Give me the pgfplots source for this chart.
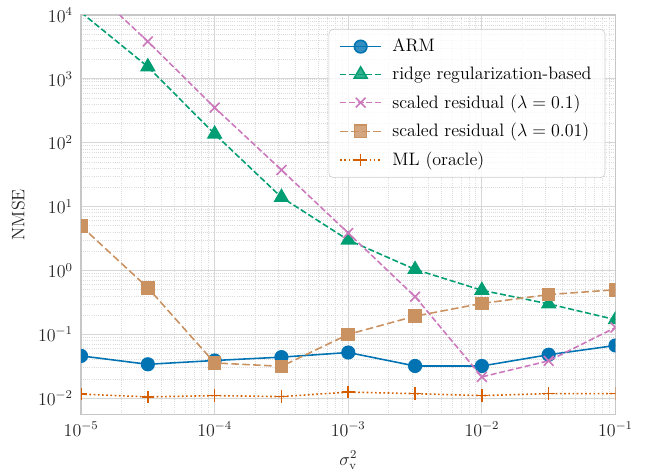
\documentclass[border=0pt]{standalone}
\usepackage{pgfplots}
\pgfplotsset{compat=1.18}
\definecolor{cblue}{HTML}{0173B2}
\definecolor{cgreen}{HTML}{029E73}
\definecolor{cpink}{HTML}{CC78BC}
\definecolor{ctan}{HTML}{CA9161}
\definecolor{corange}{HTML}{D55E00}
\begin{document}
\begin{tikzpicture}[font=\large]
\begin{loglogaxis}[
  scale only axis, width=356pt, height=266pt,
  xmin=1e-5, xmax=1e-1, ymin=5.6e-3, ymax=1e4,
  axis line style={draw=black!22, line width=0.8pt},
  tick style={draw=none},
  grid=both,
  major grid style={draw=black!16, line width=0.7pt},
  minor grid style={draw=black!14, densely dotted, line width=0.5pt},
  xtick={1e-5,1e-4,1e-3,1e-2,1e-1},
  ytick={1e-2,1e-1,1,1e1,1e2,1e3,1e4},
  tick label style={text=black!85, font=\large},
  label style={text=black!85, font=\large},
  xlabel={$\sigma_{\mathrm{v}}^2$},
  ylabel={NMSE},
  xticklabel style={yshift=-1.5pt},
  yticklabel style={xshift=-2pt},
  xlabel style={yshift=-3pt},
  ylabel style={yshift=2pt},
  clip marker paths=true,
  legend style={at={(0.981,0.965)}, anchor=north east, draw=black!20, rounded corners=3pt,
    fill=white, fill opacity=0.8, text opacity=1, row sep=4.6pt, column sep=5pt,
    inner xsep=7pt, inner ysep=4.5pt, cells={anchor=west}, font=\large},
  legend image code/.code={\draw[mark repeat=2,mark phase=2,#1] plot coordinates {(0cm,0cm)(0.48cm,0cm)(0.96cm,0cm)};},
  every axis plot/.append style={line width=1.05pt},
]
\addplot[cblue, solid, mark=*, mark size=4.2pt, mark options={solid, fill=cblue}] coordinates {
(1e-5,0.046) (3.1623e-5,0.034) (1e-4,0.039) (3.1623e-4,0.044) (1e-3,0.052)
(3.1623e-3,0.032) (1e-2,0.032) (3.1623e-2,0.048) (1e-1,0.067)};
\addlegendentry{ARM}
\addplot[cgreen, dash pattern=on 4pt off 1.8pt, mark=triangle*, mark size=5pt, mark options={solid, fill=cgreen}] coordinates {
(1e-5,11000) (3.1623e-5,1550) (1e-4,137) (3.1623e-4,14) (1e-3,3.0)
(3.1623e-3,1.04) (1e-2,0.49) (3.1623e-2,0.30) (1e-1,0.17)};
\addlegendentry{ridge regularization-based}
\addplot[cpink, dash pattern=on 4pt off 1.8pt, mark=x, mark size=4.6pt, mark options={solid}] coordinates {
(1e-5,37000) (3.1623e-5,3850) (1e-4,355) (3.1623e-4,37.5) (1e-3,3.86)
(3.1623e-3,0.39) (1e-2,0.0216) (3.1623e-2,0.0385) (1e-1,0.128)};
\addlegendentry{scaled residual ($\lambda=0.1$)}
\addplot[ctan, dash pattern=on 5pt off 2.3pt, mark=square*, mark size=4pt, mark options={solid, fill=ctan}] coordinates {
(1e-5,4.97) (3.1623e-5,0.536) (1e-4,0.0357) (3.1623e-4,0.0316) (1e-3,0.100)
(3.1623e-3,0.193) (1e-2,0.305) (3.1623e-2,0.42) (1e-1,0.50)};
\addlegendentry{scaled residual ($\lambda=0.01$)}
\addplot[corange, dash pattern=on 1.1pt off 1.7pt, mark=+, mark size=4.2pt, mark options={solid}] coordinates {
(1e-5,0.0116) (3.1623e-5,0.0105) (1e-4,0.0110) (3.1623e-4,0.0106) (1e-3,0.0125)
(3.1623e-3,0.0118) (1e-2,0.0110) (3.1623e-2,0.0118) (1e-1,0.0118)};
\addlegendentry{ML (oracle)}
\end{loglogaxis}
\path ([xshift=-54pt,yshift=-40pt]current axis.south west) rectangle ([xshift=27pt,yshift=10pt]current axis.north east);
\end{tikzpicture}
\end{document}
